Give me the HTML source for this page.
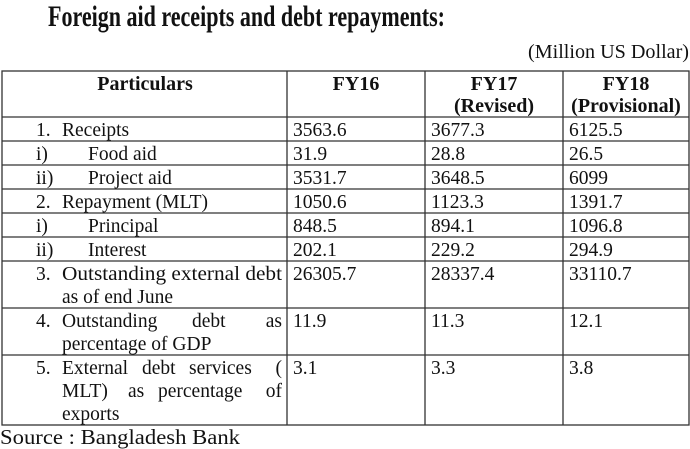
<!DOCTYPE html>
<html><head><meta charset="utf-8"><style>
html,body{margin:0;padding:0;background:#fff;}
svg{display:block;}
text{font-family:"Liberation Serif",serif;fill:#111;font-size:19.5px;}
.b{font-weight:bold;}
</style></head><body>
<svg width="690" height="449" viewBox="0 0 690 449">
<text x="48" y="26" class="b" style="font-size:30px" textLength="397" lengthAdjust="spacingAndGlyphs">Foreign aid receipts and debt repayments:</text>
<text x="528" y="58" textLength="161" lengthAdjust="spacingAndGlyphs">(Million US Dollar)</text>
<g stroke="#333" stroke-width="1.3" fill="none">
<rect x="2" y="71" width="687" height="354"/>
<line x1="287" y1="71" x2="287" y2="425"/>
<line x1="425" y1="71" x2="425" y2="425"/>
<line x1="563" y1="71" x2="563" y2="425"/>
<line x1="2" y1="117" x2="689" y2="117"/>
<line x1="2" y1="141" x2="689" y2="141"/>
<line x1="2" y1="165" x2="689" y2="165"/>
<line x1="2" y1="189" x2="689" y2="189"/>
<line x1="2" y1="213" x2="689" y2="213"/>
<line x1="2" y1="237" x2="689" y2="237"/>
<line x1="2" y1="261" x2="689" y2="261"/>
<line x1="2" y1="308" x2="689" y2="308"/>
<line x1="2" y1="355" x2="689" y2="355"/>
</g>
<g text-anchor="middle">
<text x="145" y="90" class="b" style="font-size:20px">Particulars</text>
<text x="356" y="90" class="b" style="font-size:20px">FY16</text>
<text x="494" y="90" class="b" style="font-size:20px">FY17</text>
<text x="494" y="112" class="b" style="font-size:20px">(Revised)</text>
<text x="626" y="90" class="b" style="font-size:20px">FY18</text>
<text x="626" y="112" class="b" style="font-size:20px">(Provisional)</text>
</g>
<text x="36" y="136">1.</text><text x="62" y="136">Receipts</text>
<text x="36" y="160">i)</text><text x="88" y="160">Food aid</text>
<text x="36" y="184">ii)</text><text x="88" y="184">Project aid</text>
<text x="36" y="208">2.</text><text x="62" y="208">Repayment (MLT)</text>
<text x="36" y="232">i)</text><text x="88" y="232">Principal</text>
<text x="36" y="256">ii)</text><text x="88" y="256">Interest</text>
<text x="36" y="280">3.</text><text x="62" y="280" textLength="220" lengthAdjust="spacingAndGlyphs">Outstanding external debt</text>
<text x="62" y="303">as of end June</text>
<text x="36" y="327">4.</text><text x="62" y="327">Outstanding</text><text x="192" y="327">debt</text><text x="282" y="327" text-anchor="end">as</text>
<text x="62" y="350">percentage of GDP</text>
<text x="36" y="374">5.</text><text x="62" y="374">External</text><text x="142" y="374">debt</text><text x="189" y="374">services</text><text x="282" y="374" text-anchor="end">(</text>
<text x="62" y="397">MLT)</text><text x="128" y="397">as</text><text x="158" y="397">percentage</text><text x="282" y="397" text-anchor="end">of</text>
<text x="62" y="420">exports</text>
<g>
<text x="293" y="136">3563.6</text><text x="431" y="136">3677.3</text><text x="569" y="136">6125.5</text>
<text x="293" y="160">31.9</text><text x="431" y="160">28.8</text><text x="569" y="160">26.5</text>
<text x="293" y="184">3531.7</text><text x="431" y="184">3648.5</text><text x="569" y="184">6099</text>
<text x="293" y="208">1050.6</text><text x="431" y="208">1123.3</text><text x="569" y="208">1391.7</text>
<text x="293" y="232">848.5</text><text x="431" y="232">894.1</text><text x="569" y="232">1096.8</text>
<text x="293" y="256">202.1</text><text x="431" y="256">229.2</text><text x="569" y="256">294.9</text>
<text x="293" y="280">26305.7</text><text x="431" y="280">28337.4</text><text x="569" y="280">33110.7</text>
<text x="293" y="327">11.9</text><text x="431" y="327">11.3</text><text x="569" y="327">12.1</text>
<text x="293" y="374">3.1</text><text x="431" y="374">3.3</text><text x="569" y="374">3.8</text>
</g>
<text x="0" y="444" style="font-size:21px" textLength="240" lengthAdjust="spacingAndGlyphs">Source : Bangladesh Bank</text>
</svg>
</body></html>
